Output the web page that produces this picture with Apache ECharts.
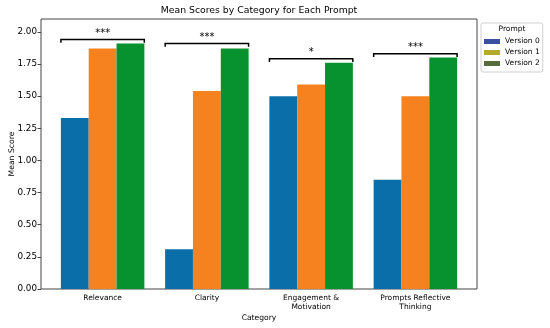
<!DOCTYPE html>
<html><head><meta charset="utf-8">
<script src="https://cdn.jsdelivr.net/npm/echarts@6/dist/echarts.min.js"></script>
<style>html,body{margin:0;padding:0;background:#fff}#c{width:550px;height:328px}</style>
</head><body><div id="c"></div>
<script>
const categories = ['Relevance', 'Clarity', 'Engagement &\nMotivation', 'Prompts Reflective\nThinking'];
const seriesNames = ['Version 0', 'Version 1', 'Version 2'];
const version0 = [1.33, 0.31, 1.50, 0.85];
const version1 = [1.87, 1.54, 1.59, 1.50];
const version2 = [1.91, 1.87, 1.76, 1.80];
const bracketHeights = [1.94, 1.91, 1.79, 1.83];
const stars = ['***', '***', '*', '***'];
const yTicks = [0, 0.25, 0.5, 0.75, 1.0, 1.25, 1.5, 1.75, 2.0];

const barColors = ['#0a6fa8', '#f5821e', '#08922f'];
const legendColors = ['#3a4f9f', '#b3ac2a', '#556b3a'];
const FONT = 'DejaVu Sans';

const chart = echarts.init(document.getElementById('c'));
const allSeries = [version0, version1, version2];

const bars = allSeries.map((d, i) => ({
  name: seriesNames[i], type: 'bar', xAxisIndex: 1, yAxisIndex: 1,
  data: d, barWidth: '26.7%', barGap: '0%', barCategoryGap: '20%',
  itemStyle: { color: barColors[i] }, silent: true, animation: false
}));

const brackets = {
  type: 'custom', xAxisIndex: 1, yAxisIndex: 1, animation: false, silent: true,
  data: bracketHeights.map((h, i) => [i, h]),
  renderItem: function (params, api) {
    const c = api.coord([api.value(0), api.value(1)]);
    const band = api.size([1, 0])[0];
    const half = band * 0.4;
    const tick = api.size([0, 0.025])[1];
    const x1 = c[0] - half, x2 = c[0] + half, y = c[1];
    return {
      type: 'group', children: [
        { type: 'polyline', shape: { points: [[x1, y + tick], [x1, y], [x2, y], [x2, y + tick]] },
          style: { stroke: '#000', lineWidth: 1.5, fill: null } },
        { type: 'text', style: { text: stars[params.dataIndex], x: c[0], y: y - 1,
          textAlign: 'center', textVerticalAlign: 'bottom', font: '10px ' + FONT, fill: '#000' } }
      ]
    };
  }
};

chart.setOption({
  animation: false,
  title: [
    { text: 'Mean Scores by Category for Each Prompt', left: 259, top: 6, padding: 0, textAlign: 'center',
      textStyle: { fontFamily: FONT, fontSize: 9.3, fontWeight: 'normal', color: '#000' } },
    { text: 'Prompt', left: 512, top: 25, padding: 0, textAlign: 'center',
      textStyle: { fontFamily: FONT, fontSize: 7.5, fontWeight: 'normal', color: '#000' } }
  ],
  legend: {
    orient: 'vertical', left: 481, top: 23, itemWidth: 16, itemHeight: 5, itemGap: 2,
    padding: [14, 3, 4, 3], borderColor: '#d0d0d0', borderWidth: 1, borderRadius: 2,
    textStyle: { fontFamily: FONT, fontSize: 7.5, color: '#000', lineHeight: 9 },
    data: seriesNames.map((n, i) => ({ name: n, icon: 'rect', itemStyle: { color: legendColors[i] } }))
  },
  grid: [
    { left: 41, right: 73, top: 19, bottom: 39, show: true, borderColor: '#444', borderWidth: 1,
      backgroundColor: 'transparent', containLabel: false, outerBoundsMode: 'none' },
    { left: 50.5, right: 82.5, top: 19, bottom: 39, containLabel: false, outerBoundsMode: 'none' }
  ],
  xAxis: [
    { gridIndex: 0, type: 'value', show: false, min: 0, max: 1 },
    { gridIndex: 1, type: 'category', data: categories, axisLine: { show: false },
      axisTick: { alignWithLabel: true, length: 3.5, lineStyle: { color: '#444' } },
      axisLabel: { interval: 0, fontFamily: FONT, fontSize: 7.5, color: '#000', margin: 5, lineHeight: 9 },
      name: 'Category', nameLocation: 'middle', nameGap: 25, nameMoveOverlap: false,
      nameTextStyle: { fontFamily: FONT, fontSize: 7.6, color: '#000' } }
  ],
  yAxis: [
    { gridIndex: 0, type: 'value', min: 0, max: 2.1, interval: 0.25,
      axisLine: { show: false }, splitLine: { show: false },
      axisTick: { show: true, length: 3.5, lineStyle: { color: '#444' } },
      axisLabel: { fontFamily: FONT, fontSize: 8.8, color: '#000', margin: 4,
        formatter: v => yTicks.indexOf(v) >= 0 ? v.toFixed(2) : '',
        showMaxLabel: false },
      name: 'Mean Score', nameLocation: 'middle', nameGap: 25, nameMoveOverlap: false,
      nameTextStyle: { fontFamily: FONT, fontSize: 7.7, color: '#000' } },
    { gridIndex: 1, type: 'value', min: 0, max: 2.1, show: false }
  ],
  series: [...bars, brackets]
});
</script></body></html>
